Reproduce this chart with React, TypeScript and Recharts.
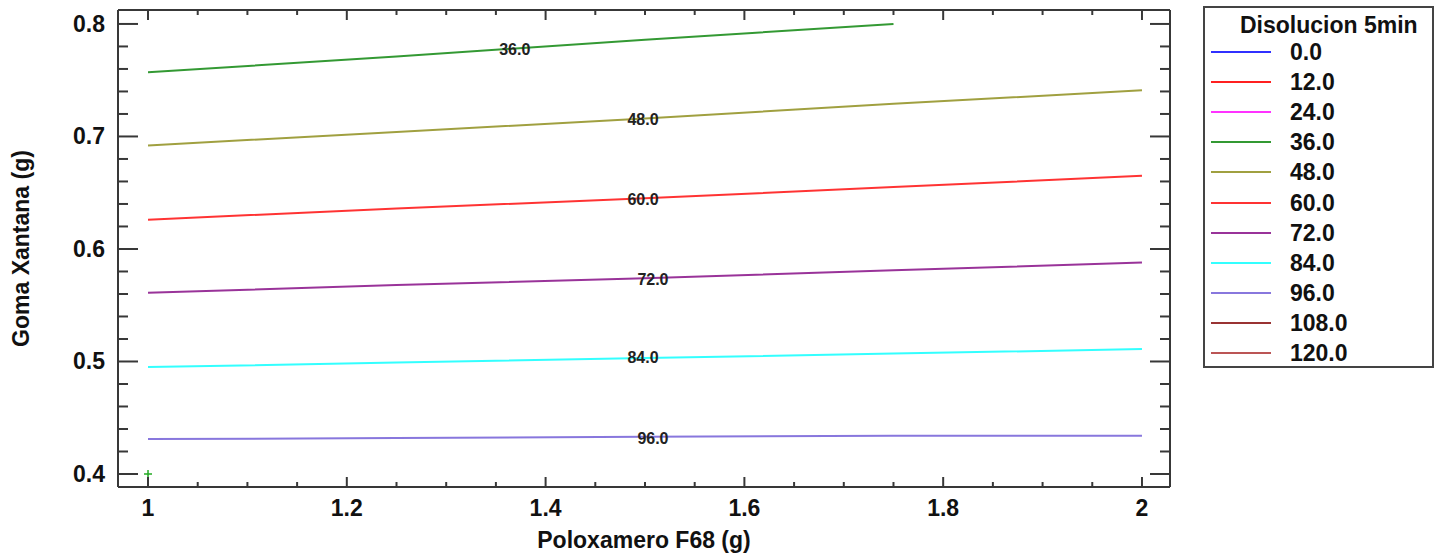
import React from "react";
import { ComposedChart, Line, Scatter, XAxis, YAxis } from "recharts";

// axis ticks (minor every 0.05 / 0.02, labelled every 0.2 / 0.1)
const X_TICKS = [1, 1.05, 1.1, 1.15, 1.2, 1.25, 1.3, 1.35, 1.4, 1.45, 1.5, 1.55, 1.6, 1.65, 1.7, 1.75, 1.8, 1.85, 1.9, 1.95, 2];
const X_MAJOR = [1, 1.2, 1.4, 1.6, 1.8, 2];
const X_LABELS = ["1", "1.2", "1.4", "1.6", "1.8", "2"];
const Y_TICKS = [0.4, 0.42, 0.44, 0.46, 0.48, 0.5, 0.52, 0.54, 0.56, 0.58, 0.6, 0.62, 0.64, 0.66, 0.68, 0.7, 0.72, 0.74, 0.76, 0.78, 0.8];
const Y_MAJOR = [0.4, 0.5, 0.6, 0.7, 0.8];
const Y_LABELS = ["0.4", "0.5", "0.6", "0.7", "0.8"];

// contour lines, Goma Xantana value at each Poloxamero point
const X_POINTS = [1, 1.25, 1.5, 1.75, 2];
const C36 = [0.757, 0.771, 0.786, 0.8];
const C48 = [0.692, 0.704, 0.716, 0.729, 0.741];
const C60 = [0.626, 0.636, 0.645, 0.655, 0.665];
const C72 = [0.561, 0.568, 0.574, 0.581, 0.588];
const C84 = [0.495, 0.499, 0.503, 0.507, 0.511];
const C96 = [0.431, 0.432, 0.433, 0.434, 0.434];

// labels written on the contours
const LABEL_TEXT = ["36.0", "48.0", "60.0", "72.0", "84.0", "96.0"];
const LABEL_X = [1.369, 1.498, 1.498, 1.508, 1.498, 1.508];
const LABEL_Y = [0.7778, 0.7156, 0.644, 0.5733, 0.504, 0.432];

// legend levels
const LEVELS = ["0.0", "12.0", "24.0", "36.0", "48.0", "60.0", "72.0", "84.0", "96.0", "108.0", "120.0"];
const LEVEL_COLORS = ["#3030ff", "#ff2020", "#ff33ff", "#339933", "#a0a040", "#ff3333", "#993399", "#33ffff", "#8877dd", "#993333", "#bb5555"];

const POINT = [{ x: 1, y: 0.4 }];

const FONT = "'Liberation Sans', Arial, sans-serif";
const AX = "#383838";

const toData = (vals: number[]) => vals.map((y, i) => ({ x: X_POINTS[i], y }));
const contours = [
  { level: "36.0", data: toData(C36), color: LEVEL_COLORS[3] },
  { level: "48.0", data: toData(C48), color: LEVEL_COLORS[4] },
  { level: "60.0", data: toData(C60), color: LEVEL_COLORS[5] },
  { level: "72.0", data: toData(C72), color: LEVEL_COLORS[6] },
  { level: "84.0", data: toData(C84), color: LEVEL_COLORS[7] },
  { level: "96.0", data: toData(C96), color: LEVEL_COLORS[8] },
];
const labelData = LABEL_TEXT.map((t, i) => ({ x: LABEL_X[i], y: LABEL_Y[i], text: t }));

const majorIdx = (v: number, list: number[]) => list.findIndex((m) => Math.abs(m - v) < 1e-6);

const BottomTick = (p: any) => {
  const i = majorIdx(p.payload.value, X_MAJOR);
  return (
    <g>
      <line x1={p.x} x2={p.x} y1={p.y} y2={p.y - (i >= 0 ? 10 : 5)} stroke={AX} strokeWidth={2} />
      {i >= 0 && (
        <text x={p.x} y={p.y + 29} textAnchor="middle" fontFamily={FONT} fontWeight="bold" fontSize={23} fill="#111">
          {X_LABELS[i]}
        </text>
      )}
    </g>
  );
};
const TopTick = (p: any) => {
  const i = majorIdx(p.payload.value, X_MAJOR);
  return <line x1={p.x} x2={p.x} y1={p.y} y2={p.y + (i >= 0 ? 10 : 5)} stroke={AX} strokeWidth={2} />;
};
const LeftTick = (p: any) => {
  const i = majorIdx(p.payload.value, Y_MAJOR);
  return (
    <g>
      <line x1={p.x} x2={p.x + (i >= 0 ? 20 : 10)} y1={p.y} y2={p.y} stroke={AX} strokeWidth={2} />
      {i >= 0 && (
        <text x={p.x - 13} y={p.y + 8} textAnchor="end" fontFamily={FONT} fontWeight="bold" fontSize={23} fill="#111">
          {Y_LABELS[i]}
        </text>
      )}
    </g>
  );
};
const RightTick = (p: any) => {
  const i = majorIdx(p.payload.value, Y_MAJOR);
  return <line x1={p.x} x2={p.x - (i >= 0 ? 20 : 10)} y1={p.y} y2={p.y} stroke={AX} strokeWidth={2} />;
};

const ContourLabel = (p: any) => (
  <text x={p.cx} y={p.cy + 6} textAnchor="middle" fontFamily={FONT} fontWeight="bold" fontSize={16} fill="#222">
    {p.payload.text}
  </text>
);
const Cross = (p: any) => (
  <g stroke="#22aa22" strokeWidth={1.5}>
    <line x1={p.cx - 4} x2={p.cx + 4} y1={p.cy} y2={p.cy} />
    <line x1={p.cx} x2={p.cx} y1={p.cy - 4} y2={p.cy + 4} />
  </g>
);

export default function App() {
  return (
    <div style={{ position: "absolute", left: 0, top: 0, width: 1446, height: 560, background: "#fff", fontFamily: FONT }}>
      <ComposedChart width={1446} height={560} margin={{ top: 9, right: 275, bottom: 0, left: 0 }}>
        <XAxis
          dataKey="x"
          type="number"
          domain={[0.9698, 2.0282]}
          allowDataOverflow
          ticks={X_TICKS}
          interval={0}
          height={73}
          tickSize={0}
          tickMargin={0}
          tickLine={false}
          tick={<BottomTick />}
          axisLine={{ stroke: AX, strokeWidth: 2 }}
          label={{ value: "Poloxamero F68 (g)", position: "insideBottom", offset: 12, fontSize: 23, fontWeight: "bold", fill: "#111", fontFamily: FONT }}
        />
        <XAxis
          xAxisId="top"
          dataKey="x"
          orientation="top"
          type="number"
          domain={[0.9698, 2.0282]}
          allowDataOverflow
          ticks={X_TICKS}
          interval={0}
          height={1}
          tickSize={0}
          tickMargin={0}
          tickLine={false}
          tick={<TopTick />}
          axisLine={{ stroke: AX, strokeWidth: 2 }}
        />
        <YAxis
          type="number"
          domain={[0.38844, 0.8124]}
          allowDataOverflow
          ticks={Y_TICKS}
          interval={0}
          width={118}
          tickSize={0}
          tickMargin={0}
          tickLine={false}
          tick={<LeftTick />}
          axisLine={{ stroke: AX, strokeWidth: 2 }}
          label={{ value: "Goma Xantana (g)", angle: -90, position: "insideLeft", offset: 21, fontSize: 23, fontWeight: "bold", fill: "#111", fontFamily: FONT, style: { textAnchor: "middle" } }}
        />
        <YAxis
          yAxisId="right"
          orientation="right"
          type="number"
          domain={[0.38844, 0.8124]}
          allowDataOverflow
          ticks={Y_TICKS}
          interval={0}
          width={1}
          tickSize={0}
          tickMargin={0}
          tickLine={false}
          tick={<RightTick />}
          axisLine={{ stroke: AX, strokeWidth: 2 }}
        />
        {contours.map((c) => (
          <Line
            key={c.level}
            data={c.data}
            dataKey="y"
            type="linear"
            stroke={c.color}
            strokeWidth={2}
            dot={false}
            isAnimationActive={false}
          />
        ))}
        {/* invisible series so the mirrored top/right axes get drawn */}
        <Line
          xAxisId="top"
          yAxisId="right"
          data={POINT}
          dataKey="y"
          stroke="none"
          dot={false}
          legendType="none"
          isAnimationActive={false}
        />
        <Scatter data={labelData} dataKey="y" shape={<ContourLabel />} isAnimationActive={false} />
        <Scatter data={POINT} dataKey="y" shape={<Cross />} isAnimationActive={false} />
      </ComposedChart>

      <div style={{ position: "absolute", left: 1203, top: 6, width: 227, height: 358, border: "2px solid #444", background: "#fff" }}>
        <div style={{ position: "absolute", left: 35, top: 4, fontSize: 23, fontWeight: "bold", color: "#111", whiteSpace: "nowrap" }}>
          Disolucion 5min
        </div>
        {LEVELS.map((lv, i) => (
          <div key={lv} style={{ position: "absolute", left: 0, top: 44 + i * 30.1 - 15, height: 30, width: 227 }}>
            <div style={{ position: "absolute", left: 6, top: 14, width: 60, height: 2, background: LEVEL_COLORS[i] }} />
            <div style={{ position: "absolute", left: 85, top: 1, fontSize: 23, fontWeight: "bold", color: "#111", lineHeight: "28px" }}>
              {lv}
            </div>
          </div>
        ))}
      </div>
    </div>
  );
}
